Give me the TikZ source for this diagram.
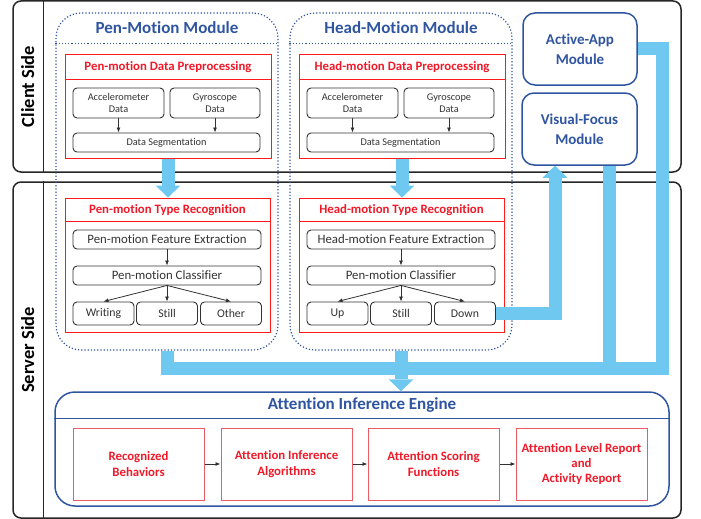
\documentclass[tikz,border=0pt]{standalone}
\usepackage{fontspec}
\setmainfont{Carlito}[Ligatures = NoCommon]
\usepackage{tikz}
\usetikzlibrary{calc, arrows.meta}

\definecolor{module blue}{RGB}{47,85,160}
\definecolor{title red}{RGB}{240,25,40}
\definecolor{frame red}{RGB}{240,90,100}
\definecolor{pipe blue}{RGB}{110,200,240}
\definecolor{ink}{RGB}{50,50,50}

\tikzset{
	side box/.style = {draw = black!85, line width = 1.5pt, rounded corners = 8pt, inner sep = 0pt},
	side label/.style = {rotate = 90, font = \fontsize{18.5}{20}\selectfont\bfseries},
	module/.style = {draw = module blue, dotted, line width = 1.2pt, rounded corners = 25pt, inner sep = 0pt},
	module title/.style = {text = module blue, font = \fontsize{17}{20}\selectfont\bfseries},
	stage/.style = {draw = red!90!white, line width = 1pt, inner sep = 0pt},
	stage title/.style = {text = title red, font = \fontsize{12.8}{15}\selectfont\bfseries},
	data/.style = {draw = ink, line width = 0.9pt, rounded corners = 4pt, text = ink, align = center, inner sep = 0pt, font = \fontsize{10.3}{12}\selectfont},
	step box/.style = {data, font = \fontsize{12.8}{14}\selectfont},
	type box/.style = {data, font = \fontsize{11.8}{14}\selectfont},
	blue box/.style = {draw = module blue, line width = 1.5pt, rounded corners = 12pt, text = module blue, align = center, font = \fontsize{15}{20}\selectfont\bfseries},
	engine box/.style = {draw = frame red, line width = 1pt, text = title red, align = center, inner sep = 0pt, minimum width = 131pt, minimum height = 72pt, font = \fontsize{12.8}{15.5}\selectfont\bfseries},
	flow/.style = {draw = ink, line width = 0.8pt, -{Latex[length = 5pt, width = 4pt]}},
	pipe/.style = {draw = pipe blue, line width = 13pt},
	pipe arrow/.style = {pipe, -{Triangle[width = 25pt, length = 12pt, line width = 0pt]}}
}

\begin{document}
\begin{tikzpicture}[x = 1pt, y = -1pt]
	\useasboundingbox (0,0) rectangle (701,519);
	
	% client side and server side
	\node [side box, minimum width = 668pt, minimum height = 171pt] (client) at (347,86.5) {};
	\node [side box, minimum width = 668pt, minimum height = 336pt] (server) at (347,350) {};
	\draw [black!85, line width = 1.5pt] ($ (client.north west) + (31,0) $) -- ($ (client.south west) + (31,0) $);
	\draw [black!85, line width = 1.5pt] ($ (server.north west) + (31,0) $) -- ($ (server.south west) + (31,0) $);
	\node [side label] (client label) at ($ (client.west) + (15.5,0) $) {Client Side};
	\node [side label] (server label) at ($ (server.west) + (15.5,0) $) {Server Side};
	
	% the two motion modules
	\foreach \name/\Title/\x in {pen/Pen/167, head/Head/401}
	{
		\node [module, minimum width = 222pt, minimum height = 337pt] (\name\space module) at (\x,181.5) {};
		\draw [module] ($ (\name\space module.north west) + (0,31) $) -- ($ (\name\space module.north east) + (0,31) $);
		\node [module title] (\name\space module title) at ($ (\name\space module.north) + (0,15) $) {\Title-Motion Module};
		
		\node [stage, minimum width = 206pt, minimum height = 103pt] (\name\space pre) at ($ (\x,106.5) + (1,0) $) {};
		\draw [stage] ($ (\name\space pre.north west) + (0,25) $) -- ($ (\name\space pre.north east) + (0,25) $);
		\node [stage title] (\name\space pre title) at ($ (\name\space pre.north) + (0,12.5) $) {\Title-motion Data Preprocessing};
		
		\node [data, minimum width = 91pt, minimum height = 30pt] (\name\space acc) at ($ (\x,103) + (-48.5,0) $) {Accelerometer\\Data};
		\node [data, minimum width = 90pt, minimum height = 30pt] (\name\space gyro) at ($ (\x,103) + (48,0) $) {Gyroscope\\Data};
		\node [data, minimum width = 187pt, minimum height = 19pt] (\name\space seg) at ($ (\x,142.5) + (-0.5,0) $) {Data Segmentation};
		\draw [flow] (\name\space acc.south) -- (\name\space acc.south |- \name\space seg.north);
		\draw [flow] (\name\space gyro.south) -- (\name\space gyro.south |- \name\space seg.north);
		
		\node [stage, minimum width = 205pt, minimum height = 134pt] (\name\space rec) at ($ (\x,265) + (0.5,0) $) {};
		\draw [stage] ($ (\name\space rec.north west) + (0,24) $) -- ($ (\name\space rec.north east) + (0,24) $);
		\node [stage title] (\name\space rec title) at ($ (\name\space rec.north) + (0,12.5) $) {\Title-motion Type Recognition};
		
		\node [step box, minimum width = 188pt, minimum height = 19pt] (\name\space feat) at (\x,239.5) {\Title-motion Feature Extraction};
		\node [step box, minimum width = 188pt, minimum height = 19pt] (\name\space cls) at (\x,275.5) {Pen-motion Classifier};
		\draw [flow] (\name\space feat.south) -- (\name\space cls.north);
	}
	
	% pen-motion and head-motion types
	\foreach \name/\x/\type in {pen writing/103.5/Writing, pen still/167/Still, pen other/231/Other, head up/337.5/Up, head still/401/Still, head down/465/Down}
	{
		\node [type box, minimum width = 61pt, minimum height = 23pt] (\name) at (\x,313.5) {\type};
	}
	\foreach \name in {pen writing, pen still, pen other}
		\draw [flow] (pen cls.south) -- (\name.north);
	\foreach \name in {head up, head still, head down}
		\draw [flow] (head cls.south) -- (\name.north);
	
	% client modules
	\node [blue box, minimum width = 114pt, minimum height = 72pt] (active) at (580,49) {Active-App\\Module};
	\node [blue box, minimum width = 115pt, minimum height = 72pt] (visual) at (579.5,129) {Visual-Focus\\Module};
	
	% attention inference engine
	\node [draw = module blue, line width = 1.5pt, rounded corners = 20pt, minimum width = 614pt, minimum height = 114pt] (engine) at (362,449) {};
	\draw [module blue, line width = 1.2pt] ($ (engine.north west) + (0,27) $) -- ($ (engine.north east) + (0,27) $);
	\node [module title] (engine title) at ($ (engine.north) + (0,14) $) {Attention Inference Engine};
	
	\node [engine box] (behaviors) at (138.5,464) {Recognized\\Behaviors};
	\node [engine box] (algorithms) at (286.5,464) {Attention Inference\\Algorithms};
	\node [engine box] (scoring) at (433.5,464) {Attention Scoring\\Functions};
	\node [engine box, font = \fontsize{12.8}{15}\selectfont\bfseries] (report) at (581.5,464) {Attention Level Report\\and\\Activity Report};
	\draw [flow] (behaviors) -- (algorithms);
	\draw [flow] (algorithms) -- (scoring);
	\draw [flow] (scoring) -- (report);
	
	% blue pipes
	\coordinate (bus right) at (662.5,368);
	\coordinate (focus out) at ($ (visual.south) + (30,0) $);
	\coordinate (focus in) at ($ (visual.south) + (-24.5,0) $);
	
	\draw [pipe arrow] (pen pre.south) -- (pen pre.south |- pen rec.north);
	\draw [pipe arrow] (head pre.south) -- (head pre.south |- head rec.north);
	\draw [pipe arrow] (head down.east) -| (focus in);
	\draw [pipe] (active.east) -| (bus right) -| (pen module.south);
	\draw [pipe] (focus out) -- (focus out |- bus right);
	\draw [pipe arrow] (head module.south) -- (head module.south |- engine.north);
\end{tikzpicture}
\end{document}
